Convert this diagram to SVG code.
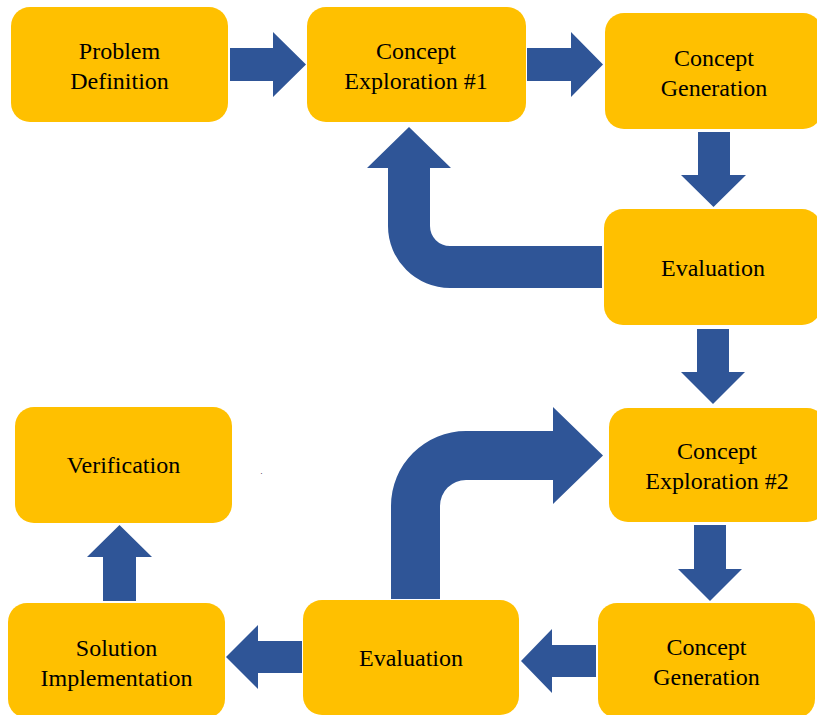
<svg xmlns="http://www.w3.org/2000/svg" width="817" height="715" viewBox="0 0 817 715">
<style>
.box{fill:#FFC000;}
.arr{fill:#2F5597;}
.t{font-family:'Liberation Serif','Times New Roman',Times,'DejaVu Serif',serif;font-size:24px;fill:#000;text-anchor:middle;}
</style>
<rect width="817" height="715" fill="#FFFFFF"/>
<g id="connectors">
<polygon class="arr" points="230,48 273,48 273,32 306,64.5 273,97 273,81 230,81"/>
<polygon class="arr" points="527,48 571,48 571,32 603,64.5 571,97 571,81 527,81"/>
<polygon class="arr" points="698,132 730,132 730,175 746,175 713.5,207 681,175 698,175"/>
<path class="arr" d="M602,246 L450,246 A20,20 0 0 1 430,226 L430,168 L451,168 L409,127 L367,168 L388,168 L388,226 A62,62 0 0 0 450,288 L602,288 Z"/>
<polygon class="arr" points="697,329 729,329 729,372 745,372 713,404 681,372 697,372"/>
<path class="arr" d="M391,599 L391,506 A75,75 0 0 1 466,431 L553,431 L553,407 L603,455.5 L553,504 L553,480 L466,480 A26,26 0 0 0 440,506 L440,599 Z"/>
<polygon class="arr" points="694,525 726,525 726,569 742,569 710,601 678,569 694,569"/>
<polygon class="arr" points="596,645 552,645 552,629 521,661 552,693 552,677 596,677"/>
<polygon class="arr" points="302,641 258,641 258,625 226,657 258,689 258,673 302,673"/>
<polygon class="arr" points="103,601 103,557 87,557 119.5,525 152,557 136,557 136,601"/>
</g>
<g id="problem-definition">
<rect class="box" x="11" y="7" width="217" height="115" rx="19"/>
<text class="t" x="119.5" y="59">Problem</text>
<text class="t" x="119.5" y="89">Definition</text>
</g>
<g id="concept-exploration-1">
<rect class="box" x="307" y="7" width="219" height="115" rx="19"/>
<text class="t" x="416" y="59">Concept</text>
<text class="t" x="416" y="89">Exploration #1</text>
</g>
<g id="concept-generation-1">
<rect class="box" x="605" y="13" width="217" height="116" rx="19"/>
<text class="t" x="714" y="66">Concept</text>
<text class="t" x="714" y="96">Generation</text>
</g>
<g id="evaluation-1">
<rect class="box" x="604" y="209" width="217" height="116" rx="19"/>
<text class="t" x="713" y="276">Evaluation</text>
</g>
<g id="concept-exploration-2">
<rect class="box" x="609" y="408" width="217" height="114" rx="19"/>
<text class="t" x="717" y="459">Concept</text>
<text class="t" x="717" y="489">Exploration #2</text>
</g>
<g id="concept-generation-2">
<rect class="box" x="598" y="603" width="217" height="115" rx="19"/>
<text class="t" x="706.5" y="655">Concept</text>
<text class="t" x="706.5" y="685">Generation</text>
</g>
<g id="evaluation-2">
<rect class="box" x="303" y="600" width="216" height="115" rx="19"/>
<text class="t" x="411" y="666">Evaluation</text>
</g>
<g id="solution-implementation">
<rect class="box" x="8" y="603" width="217" height="115" rx="19"/>
<text class="t" x="116.5" y="656">Solution</text>
<text class="t" x="116.5" y="686">Implementation</text>
</g>
<g id="verification">
<rect class="box" x="15" y="407" width="217" height="116" rx="19"/>
<text class="t" x="123.5" y="473">Verification</text>
</g>
<text class="t" x="261.5" y="474" style="font-size:8px">.</text>
</svg>
